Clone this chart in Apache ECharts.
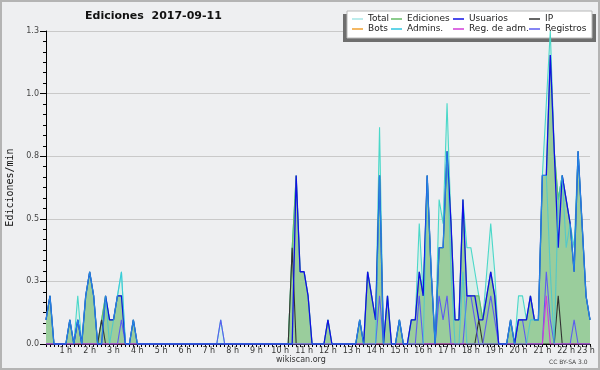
<!DOCTYPE html>
<html>
<head>
<meta charset="utf-8">
<script src="https://cdn.jsdelivr.net/npm/echarts@6/dist/echarts.min.js"></script>
<style>
	html, body { margin: 0; padding: 0; background: #eeeff1; }
	#chart { width: 600px; height: 370px; }
</style>
</head>
<body>
<div id="chart"></div>
<script>
// edits per minute, one value every 10 minutes from 00:00
var total = [
	0.1, 0.2, 0, 0, 0, 0, 0.1, 0, 0.2, 0, 0.2, 0.3,
	0.2, 0, 0.1, 0.2, 0.1, 0.1, 0.2, 0.3, 0, 0, 0.1, 0,
	0, 0, 0, 0, 0, 0, 0, 0, 0, 0, 0, 0,
	0, 0, 0, 0, 0, 0, 0, 0, 0.1, 0, 0, 0,
	0, 0, 0, 0, 0, 0, 0, 0, 0, 0, 0, 0,
	0, 0, 0.4, 0.7, 0.3, 0.3, 0.2, 0, 0, 0, 0, 0.1,
	0, 0, 0, 0, 0, 0, 0, 0.1, 0, 0.3, 0.2, 0.1,
	0.9, 0, 0.2, 0, 0, 0.1, 0, 0, 0.1, 0.1, 0.5, 0.2,
	0.7, 0.3, 0, 0.6, 0.5, 1.0, 0.5, 0.1, 0.1, 0.6, 0.4, 0.4,
	0.3, 0.2, 0.1, 0.3, 0.5, 0.3, 0, 0, 0, 0.1, 0, 0.2,
	0.2, 0.1, 0.2, 0.1, 0.1, 0.7, 1.0, 1.3, 0.8, 0.6, 0.7, 0.6,
	0.5, 0.4, 0.8, 0.5, 0.2, 0.1
];
var ediciones = [
	0.1, 0.2, 0, 0, 0, 0, 0.1, 0, 0.1, 0, 0.2, 0.3,
	0.2, 0, 0.1, 0.2, 0.1, 0.1, 0.2, 0.2, 0, 0, 0.1, 0,
	0, 0, 0, 0, 0, 0, 0, 0, 0, 0, 0, 0,
	0, 0, 0, 0, 0, 0, 0, 0, 0, 0, 0, 0,
	0, 0, 0, 0, 0, 0, 0, 0, 0, 0, 0, 0,
	0, 0, 0.4, 0.7, 0.3, 0.3, 0.2, 0, 0, 0, 0, 0.1,
	0, 0, 0, 0, 0, 0, 0, 0.1, 0, 0.3, 0.2, 0.1,
	0.7, 0, 0.2, 0, 0, 0.1, 0, 0, 0.1, 0.1, 0.3, 0.2,
	0.7, 0.3, 0, 0.4, 0.4, 0.8, 0.5, 0.1, 0.1, 0.6, 0.2, 0.2,
	0.2, 0.2, 0.1, 0.2, 0.3, 0.2, 0, 0, 0, 0.1, 0, 0.1,
	0.1, 0.1, 0.2, 0.1, 0.1, 0.7, 0.7, 1.2, 0.8, 0.6, 0.7, 0.6,
	0.5, 0.3, 0.8, 0.5, 0.2, 0.1
];
var usuarios = [
	0.1, 0.2, 0, 0, 0, 0, 0.1, 0, 0.1, 0, 0.2, 0.3,
	0.2, 0, 0, 0.2, 0.1, 0.1, 0.2, 0.2, 0, 0, 0.1, 0,
	0, 0, 0, 0, 0, 0, 0, 0, 0, 0, 0, 0,
	0, 0, 0, 0, 0, 0, 0, 0, 0, 0, 0, 0,
	0, 0, 0, 0, 0, 0, 0, 0, 0, 0, 0, 0,
	0, 0, 0, 0.7, 0.3, 0.3, 0.2, 0, 0, 0, 0, 0.1,
	0, 0, 0, 0, 0, 0, 0, 0.1, 0, 0.3, 0.2, 0.1,
	0.7, 0, 0.2, 0, 0, 0.1, 0, 0, 0.1, 0.1, 0.3, 0.2,
	0.7, 0.3, 0, 0.4, 0.4, 0.8, 0.5, 0.1, 0.1, 0.6, 0.2, 0.2,
	0.2, 0.1, 0.1, 0.2, 0.3, 0.2, 0, 0, 0, 0.1, 0, 0.1,
	0.1, 0.1, 0.2, 0.1, 0.1, 0.7, 0.7, 1.2, 0.8, 0.4, 0.7, 0.6,
	0.5, 0.3, 0.8, 0.5, 0.2, 0.1
];
var ip = [
	0, 0, 0, 0, 0, 0, 0, 0, 0, 0, 0, 0,
	0, 0, 0.1, 0, 0, 0, 0, 0, 0, 0, 0, 0,
	0, 0, 0, 0, 0, 0, 0, 0, 0, 0, 0, 0,
	0, 0, 0, 0, 0, 0, 0, 0, 0, 0, 0, 0,
	0, 0, 0, 0, 0, 0, 0, 0, 0, 0, 0, 0,
	0, 0, 0.4, 0, 0, 0, 0, 0, 0, 0, 0, 0,
	0, 0, 0, 0, 0, 0, 0, 0, 0, 0, 0, 0,
	0, 0, 0, 0, 0, 0, 0, 0, 0, 0, 0, 0,
	0, 0, 0, 0, 0, 0, 0, 0, 0, 0, 0, 0,
	0, 0.1, 0, 0, 0, 0, 0, 0, 0, 0, 0, 0,
	0, 0, 0, 0, 0, 0, 0, 0, 0, 0.2, 0, 0,
	0, 0, 0, 0, 0, 0
];
var bots = [];
var admins = [
	0.1, 0.2, 0, 0, 0, 0, 0.1, 0, 0.1, 0, 0.2, 0.3,
	0.2, 0, 0, 0.2, 0, 0.1, 0.2, 0.3, 0, 0, 0.1, 0,
	0, 0, 0, 0, 0, 0, 0, 0, 0, 0, 0, 0,
	0, 0, 0, 0, 0, 0, 0, 0, 0, 0, 0, 0,
	0, 0, 0, 0, 0, 0, 0, 0, 0, 0, 0, 0,
	0, 0, 0, 0, 0, 0, 0, 0, 0, 0, 0, 0,
	0, 0, 0, 0, 0, 0, 0, 0.1, 0, 0, 0, 0,
	0.7, 0, 0, 0, 0, 0.1, 0, 0, 0, 0, 0, 0,
	0.7, 0.3, 0, 0.4, 0.4, 0.8, 0.3, 0, 0, 0.3, 0, 0,
	0, 0, 0, 0, 0, 0, 0, 0, 0, 0.1, 0, 0,
	0, 0, 0.1, 0.1, 0.1, 0.7, 0.7, 0.3, 0, 0.6, 0.7, 0.4,
	0.5, 0.3, 0.8, 0.5, 0.2, 0.1
];
var regAdm = [
	0, 0, 0, 0, 0, 0, 0, 0, 0, 0, 0, 0,
	0, 0, 0, 0, 0, 0, 0, 0, 0, 0, 0, 0,
	0, 0, 0, 0, 0, 0, 0, 0, 0, 0, 0, 0,
	0, 0, 0, 0, 0, 0, 0, 0, 0, 0, 0, 0,
	0, 0, 0, 0, 0, 0, 0, 0, 0, 0, 0, 0,
	0, 0, 0, 0, 0, 0, 0, 0, 0, 0, 0, 0,
	0, 0, 0, 0, 0, 0, 0, 0, 0, 0, 0, 0,
	0, 0, 0, 0, 0, 0, 0, 0, 0, 0, 0, 0,
	0, 0, 0, 0, 0, 0, 0, 0, 0, 0, 0, 0,
	0, 0, 0, 0, 0, 0, 0, 0, 0, 0, 0, 0,
	0, 0, 0, 0, 0, 0, 0.2, 0, 0, 0, 0, 0,
	0, 0, 0, 0, 0, 0
];
var registros = [
	0, 0, 0, 0, 0, 0, 0, 0, 0.1, 0, 0, 0,
	0, 0, 0, 0, 0, 0, 0, 0.1, 0, 0, 0, 0,
	0, 0, 0, 0, 0, 0, 0, 0, 0, 0, 0, 0,
	0, 0, 0, 0, 0, 0, 0, 0, 0.1, 0, 0, 0,
	0, 0, 0, 0, 0, 0, 0, 0, 0, 0, 0, 0,
	0, 0, 0, 0, 0, 0, 0, 0, 0, 0, 0, 0,
	0, 0, 0, 0, 0, 0, 0, 0, 0, 0, 0, 0,
	0.2, 0, 0, 0, 0, 0, 0, 0, 0, 0, 0.2, 0,
	0, 0, 0, 0.2, 0.1, 0.2, 0, 0, 0, 0, 0.2, 0.2,
	0.1, 0, 0, 0.1, 0.2, 0.1, 0, 0, 0, 0, 0, 0.1,
	0.1, 0, 0, 0, 0, 0, 0.3, 0.1, 0, 0, 0, 0,
	0, 0.1, 0, 0, 0, 0
];

var hourLabels = ['', '1 h', '2 h', '3 h', '4 h', '5 h', '6 h', '7 h', '8 h', '9 h', '10 h', '11 h',
	'12 h', '13 h', '14 h', '15 h', '16 h', '17 h', '18 h', '19 h', '20 h', '21 h', '22 h', '23 h'];
var yTicks = [0, 0.26, 0.52, 0.78, 1.04, 1.3];

var times = [];
for (var i = 0; i < total.length; i++)
{
	var h = Math.floor(i / 6), m = (i % 6) * 10;
	times.push((h < 10 ? '0' : '') + h + ':' + (m < 10 ? '0' : '') + m);
}

function line(name, data, color, width, extra) {
	var s = {
		name: name,
		type: 'line',
		data: data,
		symbol: 'none',
		animation: false,
		itemStyle: { color: color },
		lineStyle: { color: color, width: width }
	};
	for (var k in extra)
		s[k] = extra[k];
	return s;
}

function legendCol(left, names) {
	return {
		orient: 'vertical',
		left: left,
		top: 14,
		padding: 0,
		itemGap: 0,
		itemWidth: 11,
		itemHeight: 1.5,
		icon: 'rect',
		selectedMode: false,
		textStyle: { fontFamily: 'DejaVu Sans', fontSize: 9, color: '#222', lineHeight: 10 },
		data: names
	};
}

var chart = echarts.init(document.getElementById('chart'), null, { renderer: 'canvas' });

chart.setOption({
	backgroundColor: '#eeeff1',
	textStyle: { fontFamily: 'DejaVu Sans' },
	title: {
		text: 'Ediciones  2017-09-11',
		left: 85,
		top: 11,
		padding: 0,
		textStyle: { fontFamily: 'DejaVu Sans', fontSize: 11, fontWeight: 'bold', color: '#111' }
	},
	legend: [
		legendCol(352, [{ name: 'Total', itemStyle: { color: '#a6e6e6' } }, 'Bots']),
		legendCol(391, ['Ediciones', 'Admins.']),
		legendCol(453, ['Usuarios', 'Reg. de adm.']),
		legendCol(529, ['IP', 'Registros'])
	],
	grid: { left: 46, right: 10, top: 31, bottom: 26, outerBoundsMode: 'none', containLabel: false },
	xAxis: {
		type: 'category',
		data: times,
		boundaryGap: false,
		axisLine: { lineStyle: { color: '#000', width: 1 } },
		axisTick: { show: true, interval: 0, length: 3, lineStyle: { color: '#000' } },
		axisLabel: {
			interval: function (idx) { return idx > 0 && (idx % 6 === 0 || idx === times.length - 1); },
			formatter: function (v, idx) { return hourLabels[Math.ceil(idx / 6)]; },
			fontSize: 8,
			color: '#333',
			margin: 3,
			padding: [0, 8, 0, 0]
		},
		splitLine: { show: false }
	},
	yAxis: {
		type: 'value',
		min: yTicks[0],
		max: yTicks[yTicks.length - 1],
		interval: yTicks[1],
		name: 'Ediciones/min',
		nameLocation: 'middle',
		nameGap: 31,
		nameTextStyle: { fontFamily: 'DejaVu Sans Mono', fontSize: 10, color: '#111' },
		axisLine: { show: true, lineStyle: { color: '#000' } },
		axisTick: { show: true, length: 6, lineStyle: { color: '#000' } },
		minorTick: { show: true, splitNumber: 6, length: 3, lineStyle: { color: '#000' } },
		axisLabel: {
			formatter: function (v) { return v.toFixed(1); },
			fontSize: 8,
			color: '#444',
			margin: 7
		},
		splitLine: { lineStyle: { color: '#c9c9c9' } }
	},
	graphic: [
		{ type: 'rect', silent: true, z: 0, shape: { x: 1, y: 1, width: 598, height: 368 },
			style: { fill: null, stroke: '#b4b4b4', lineWidth: 2 } },
		{ type: 'rect', silent: true, z: 1, shape: { x: 343, y: 14, width: 253, height: 28 },
			style: { fill: '#6e6e6e' } },
		{ type: 'rect', silent: true, z: 2, shape: { x: 347, y: 11, width: 245, height: 27 },
			style: { fill: '#ffffff', stroke: '#b8b8b8', lineWidth: 1 } },
		{ type: 'text', silent: true, z: 3, left: 276, top: 356,
			style: { text: 'wikiscan.org', fontFamily: 'DejaVu Sans', fontSize: 8, fill: '#333' } },
		{ type: 'text', silent: true, z: 3, left: 549, top: 359,
			style: { text: 'CC BY-SA 3.0', fontFamily: 'DejaVu Sans', fontSize: 6, fill: '#444' } }
	],
	series: [
		line('Total', total, '#4ad8c9', 1.1, { areaStyle: { color: 'rgba(150,235,205,0.3)' } }),
		line('Ediciones', ediciones, '#66bb66', 1.1, { areaStyle: { color: '#9acd9c', opacity: 1 } }),
		line('Bots', bots, '#f0a030', 1.1),
		line('IP', ip, '#333333', 1.1),
		line('Registros', registros, '#5c5cf0', 1.1),
		line('Reg. de adm.', regAdm, '#d23cd8', 1.1),
		line('Usuarios', usuarios, '#1010e6', 1.3),
		line('Admins.', admins, '#2fc6e0', 1.1, { lineStyle: { color: '#2fc6e0', width: 1.1, opacity: 0.65 } })
	]
});
</script>
</body>
</html>
